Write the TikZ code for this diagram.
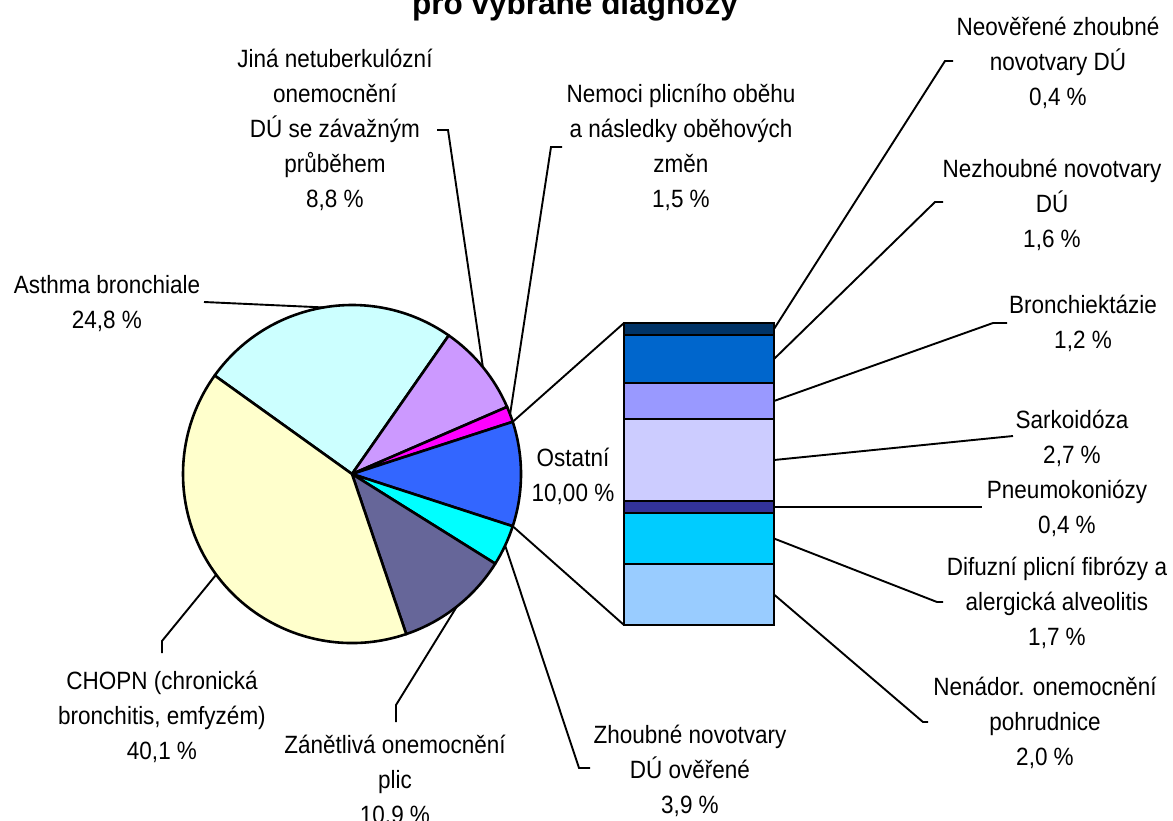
\documentclass[tikz,border=0pt]{standalone}
\usepackage{fontspec}
\setmainfont{Liberation Sans}[FakeStretch=0.9]
\newfontfamily\ttlfont{Liberation Sans}
\definecolor{cAsthma}{HTML}{CCFFFF}
\definecolor{cJina}{HTML}{CC99FF}
\definecolor{cNemoci}{HTML}{FF00FF}
\definecolor{cOstatni}{HTML}{3366FF}
\definecolor{cZhoubne}{HTML}{00FFFF}
\definecolor{cZanet}{HTML}{666699}
\definecolor{cChopn}{HTML}{FFFFCC}
\definecolor{bA}{HTML}{003366}
\definecolor{bB}{HTML}{0066CC}
\definecolor{bC}{HTML}{9999FF}
\definecolor{bD}{HTML}{CCCCFF}
\definecolor{bE}{HTML}{333399}
\definecolor{bF}{HTML}{00CCFF}
\definecolor{bG}{HTML}{99CCFF}
\newcommand\fstrut{\rule{0pt}{26pt}}
\tikzset{
  lbl/.style={font=\fontsize{25}{35}\selectfont, align=center, inner sep=0pt, anchor=north, text=black},
  pieline/.style={draw=black, line width=2.6pt, line join=round},
  leader/.style={draw=black, line width=1.9pt, line join=miter},
  barseg/.style={draw=black, line width=2.6pt, anchor=north west, minimum width=150pt, inner sep=0pt, outer sep=0pt},
}
\begin{document}
\begin{tikzpicture}[x=1pt, y=-1pt]
\path[use as bounding box] (0,0) rectangle (1173,820);
\clip (0,0) rectangle (1173,820);
\fill[white] (0,0) rectangle (1173,820);

% title (cut off at top as in the reference)
\node[font=\ttlfont\bfseries\fontsize{31.5}{38}\selectfont, inner sep=0pt, anchor=base] (title) at (575,14) {pro vybrané diagnózy};

% pie
\begin{scope}[shift={(352,474)}, y=1pt]
  \foreach \a/\b/\c in {144.36/55.08/cAsthma, 55.08/23.40/cJina, 23.40/18.00/cNemoci, 18.00/-18.00/cOstatni, -18.00/-32.04/cZhoubne, -32.04/-71.28/cZanet, -71.28/-215.64/cChopn}{
    \filldraw[fill=\c, pieline] (0,0) -- (\a:169) arc[start angle=\a, end angle=\b, radius=169] -- cycle;
  }
  \coordinate (pA) at (99.72:169);
  \coordinate (pJ) at (39.24:169);
  \coordinate (pN) at (20.70:169);
  \coordinate (pZ) at (-25.02:169);
  \coordinate (pZa) at (-51.66:169);
  \coordinate (pC) at (-143.46:169);
  \coordinate (oTop) at (18:169);
  \coordinate (oBot) at (-18:169);
\end{scope}

% bar of "Ostatní"
\node[barseg, fill=bA, minimum height=12pt] (s1) at (624,323) {};
\node[barseg, fill=bB, minimum height=48pt] (s2) at (624,335) {};
\node[barseg, fill=bC, minimum height=36pt] (s3) at (624,383) {};
\node[barseg, fill=bD, minimum height=82pt] (s4) at (624,419) {};
\node[barseg, fill=bE, minimum height=12pt] (s5) at (624,501) {};
\node[barseg, fill=bF, minimum height=51pt] (s6) at (624,513) {};
\node[barseg, fill=bG, minimum height=61pt] (s7) at (624,564) {};

\draw[leader] (oTop) -- (s1.north west);
\draw[leader] (oBot) -- (s7.south west);

% labels
\node[lbl] (asth) at (107,267) {\fstrut Asthma bronchiale\\24,8 \%};
\node[lbl] (jina) at (335,41) {\fstrut Jiná netuberkulózní\\onemocnění\\DÚ se závažným\\průběhem\\8,8 \%};
\node[lbl] (nem) at (681,76) {\fstrut Nemoci plicního oběhu\\a následky oběhových\\změn\\1,5 \%};
\node[lbl] (ost) at (573,440) {\fstrut Ostatní\\10,00 \%};
\node[lbl] (zhou) at (690,717) {\fstrut Zhoubné novotvary\\DÚ ověřené\\3,9 \%};
\node[lbl] (zan) at (395,727) {\fstrut Zánětlivá onemocnění\\plic\\10,9 \%};
\node[lbl] (chopn) at (162,663) {\fstrut CHOPN (chronická\\bronchitis, emfyzém)\\40,1 \%};
\node[lbl] (neo) at (1058,9) {\fstrut Neověřené zhoubné\\novotvary DÚ\\0,4 \%};
\node[lbl] (nez) at (1052,151) {\fstrut Nezhoubné novotvary\\DÚ\\1,6 \%};
\node[lbl] (bron) at (1083,287) {\fstrut Bronchiektázie\\1,2 \%};
\node[lbl] (sark) at (1072,402) {\fstrut Sarkoidóza\\2,7 \%};
\node[lbl] (pneu) at (1067,472) {\fstrut Pneumokoniózy\\0,4 \%};
\node[lbl] (dif) at (1057,549) {\fstrut Difuzní plicní fibrózy a\\alergická alveolitis\\1,7 \%};
\node[lbl] (nen) at (1045,669) {\fstrut Nenádor. onemocnění\\pohrudnice\\2,0 \%};

% leader end points
\coordinate (eA) at (204,302);
\coordinate (kJ) at (448,130); \coordinate (eJ) at (437,130);
\coordinate (kN) at (551,147); \coordinate (eN) at (562,147);
\coordinate (kZ) at (579,768); \coordinate (eZ) at (590,768);
\coordinate (kZa) at (396,705); \coordinate (eZa) at (396,722);
\coordinate (kC) at (162,641); \coordinate (eC) at (162,653);
\coordinate (kNeo) at (945,61); \coordinate (eNeo) at (953,61);
\coordinate (kNez) at (935,202); \coordinate (eNez) at (943,202);
\coordinate (kBr) at (993,323); \coordinate (eBr) at (1007,323);
\coordinate (eSa) at (1013,436);
\coordinate (ePn) at (982,507);
\coordinate (kDi) at (937,602); \coordinate (eDi) at (943,602);
\coordinate (kNe) at (923,722); \coordinate (eNe) at (928,722);

% leaders
\draw[leader] (pA) -- (eA);
\draw[leader] (pJ) -- (kJ) -- (eJ);
\draw[leader] (pN) -- (kN) -- (eN);
\draw[leader] (pZ) -- (kZ) -- (eZ);
\draw[leader] (pZa) -- (kZa) -- (eZa);
\draw[leader] (pC) -- (kC) -- (eC);
\draw[leader] (s1.east) -- (kNeo) -- (eNeo);
\draw[leader] (s2.east) -- (kNez) -- (eNez);
\draw[leader] (s3.east) -- (kBr) -- (eBr);
\draw[leader] (s4.east) -- (eSa);
\draw[leader] (s5.east) -- (ePn);
\draw[leader] (s6.east) -- (kDi) -- (eDi);
\draw[leader] (s7.east) -- (kNe) -- (eNe);
\end{tikzpicture}
\end{document}
